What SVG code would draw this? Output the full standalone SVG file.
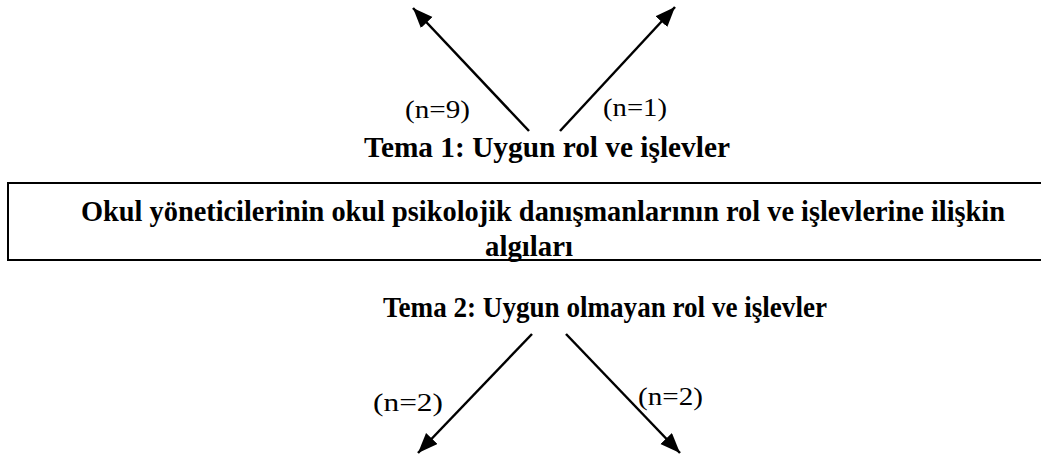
<svg xmlns="http://www.w3.org/2000/svg" width="1041" height="461" viewBox="0 0 1041 461">
<style>
text{font-family:'Liberation Serif','Times New Roman',Times,serif;fill:#000}
.b{font-weight:700;font-size:29px}
.n{font-size:26px}
.c{stroke:#000;stroke-width:2.5;fill:none;marker-end:url(#ah)}
</style>
<defs>
<marker id="ah" markerUnits="userSpaceOnUse" markerWidth="22" markerHeight="18" refX="20" refY="8" orient="auto">
<path d="M0,0 L20,8 L0,16 Z" fill="#000"/>
</marker>
</defs>
<rect width="1041" height="461" fill="#fff"/>
<g id="main">
<rect x="8" y="183" width="1040" height="77" fill="none" stroke="#000" stroke-width="2"/>
<text class="b" x="81" y="221" textLength="924" lengthAdjust="spacingAndGlyphs">Okul yöneticilerinin okul psikolojik danışmanlarının rol ve işlevlerine ilişkin</text>
<text class="b" x="485" y="256" textLength="88" lengthAdjust="spacingAndGlyphs">algıları</text>
</g>
<g id="tema1">
<text class="b" x="364" y="157" textLength="366" lengthAdjust="spacingAndGlyphs">Tema 1: Uygun rol ve işlevler</text>
</g>
<g id="tema2">
<text class="b" x="383" y="317" textLength="444" lengthAdjust="spacingAndGlyphs">Tema 2: Uygun olmayan rol ve işlevler</text>
</g>
<g id="connectors">
<line class="c" x1="529" y1="131" x2="413" y2="8"/>
<line class="c" x1="560" y1="131" x2="675" y2="7"/>
<line class="c" x1="532" y1="334" x2="418" y2="453"/>
<line class="c" x1="566" y1="334" x2="680" y2="453"/>
</g>
<g id="labels">
<text class="n" x="405" y="118" textLength="65" lengthAdjust="spacingAndGlyphs">(n=9)</text>
<text class="n" x="603" y="116" textLength="64" lengthAdjust="spacingAndGlyphs">(n=1)</text>
<text class="n" x="373" y="411" textLength="70" lengthAdjust="spacingAndGlyphs">(n=2)</text>
<text class="n" x="638" y="405" textLength="65" lengthAdjust="spacingAndGlyphs">(n=2)</text>
</g>
</svg>
